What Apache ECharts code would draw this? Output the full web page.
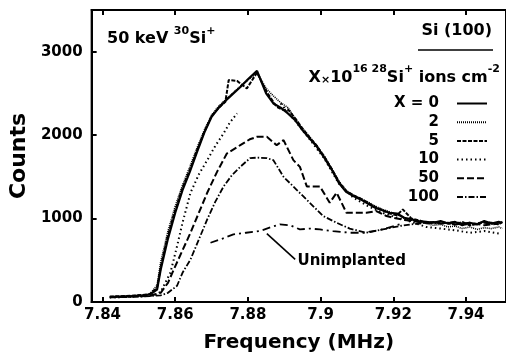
<!DOCTYPE html>
<html>
<head>
<meta charset="utf-8">
<script src="https://cdn.jsdelivr.net/npm/echarts@6/dist/echarts.min.js"></script>
<style>
html,body{margin:0;padding:0;background:#fff;}
#chart{width:506px;height:358px;}
</style>
</head>
<body>
<div id="chart"></div>
<script>
// ---- data ----
const xTicks = [7.84, 7.86, 7.88, 7.9, 7.92, 7.94];
const yTicks = [0, 1000, 2000, 3000];

const freqX0 = [7.842,7.845,7.848,7.851,7.853,7.855,7.856,7.858,7.860,7.862,7.864,7.866,7.868,7.870,7.872,7.874,7.876,7.878,7.880,7.8825,7.885,7.887,7.889,7.891,7.893,7.895,7.897,7.899,7.901,7.903,7.905,7.907,7.909,7.911,7.913,7.915,7.917,7.919,7.921,7.923,7.925,7.927,7.929,7.931,7.933,7.935,7.937,7.939,7.941,7.943,7.945,7.947,7.949,7.950];
const countsX0 = [60,65,70,80,90,150,390,760,1070,1340,1560,1800,2030,2220,2330,2420,2500,2580,2670,2770,2500,2380,2330,2260,2180,2060,1960,1860,1730,1590,1430,1320,1270,1230,1180,1130,1100,1070,1060,1010,990,970,960,950,970,940,960,920,950,930,970,940,960,950];

const freqX2 = [7.842,7.845,7.848,7.851,7.853,7.855,7.856,7.858,7.860,7.862,7.864,7.866,7.868,7.870,7.872,7.874,7.876,7.878,7.880,7.8825,7.885,7.887,7.889,7.891,7.893,7.895,7.897,7.899,7.901,7.903,7.905,7.907,7.909,7.911,7.913,7.915,7.917,7.919,7.921,7.923,7.925,7.927,7.929,7.931,7.933,7.935,7.937,7.939,7.941,7.943,7.945,7.947,7.949,7.950];
const countsX2 = [55,62,72,78,95,200,480,850,1150,1400,1620,1850,2060,2240,2350,2430,2510,2590,2660,2750,2560,2470,2390,2330,2200,2080,1980,1870,1750,1600,1450,1340,1280,1240,1200,1150,1110,1080,1050,1000,980,960,940,920,930,900,910,880,900,870,890,880,900,880];

const freqX5 = [7.842,7.845,7.848,7.851,7.853,7.855,7.856,7.858,7.860,7.862,7.864,7.866,7.868,7.870,7.872,7.8738,7.8747,7.877,7.8797,7.8825,7.8852,7.8879,7.8898,7.891,7.893,7.895,7.897,7.899,7.901,7.903,7.905,7.907,7.909,7.911,7.913,7.915,7.917,7.919,7.921,7.9226,7.925,7.927,7.929,7.931,7.933,7.935,7.937,7.939,7.941,7.943,7.945,7.947,7.949,7.950];
const countsX5 = [65,70,75,85,95,170,420,800,1100,1370,1580,1820,2040,2230,2330,2400,2660,2650,2560,2750,2515,2340,2300,2310,2200,2080,1970,1870,1740,1600,1440,1330,1280,1240,1190,1140,1100,1060,1040,1110,1000,980,950,960,940,950,930,960,920,940,960,950,930,960];

const freqX10 = [7.842,7.846,7.850,7.854,7.856,7.8587,7.8605,7.862,7.8642,7.8665,7.8688,7.871,7.8733,7.875,7.877,7.880,7.889,7.893,7.897,7.901,7.905,7.909,7.913,7.917,7.921,7.925,7.929,7.933,7.937,7.941,7.945,7.949];
const countsX10 = [55,60,70,80,120,355,670,950,1310,1530,1700,1870,2020,2150,2260,null,2380,2170,1950,1720,1420,1250,1150,1070,1010,960,900,880,860,830,850,820];

const freqX50 = [7.842,7.848,7.853,7.856,7.858,7.8596,7.862,7.8642,7.8665,7.8688,7.8715,7.8742,7.8779,7.8805,7.8825,7.8852,7.8879,7.8898,7.8925,7.8943,7.8962,7.8998,7.9025,7.9044,7.9071,7.9126,7.9153,7.9181,7.921,7.925,7.929,7.933,7.937,7.941,7.945,7.949];
const countsX50 = [60,65,75,110,230,390,620,830,1070,1310,1560,1780,1880,1950,1980,1980,1880,1940,1700,1620,1385,1385,1190,1310,1070,1070,1090,1030,1000,970,950,960,930,950,920,940];

const freqX100 = [7.842,7.848,7.853,7.856,7.858,7.8605,7.862,7.8642,7.8665,7.8688,7.871,7.8733,7.8756,7.8779,7.8806,7.8825,7.8852,7.8870,7.8898,7.8934,7.8970,7.9007,7.9044,7.9080,7.9126,7.9171,7.9217,7.925,7.929,7.933,7.937,7.941,7.945,7.949];
const countsX100 = [55,60,70,80,110,195,350,510,750,990,1200,1385,1520,1620,1725,1730,1725,1700,1500,1345,1190,1030,950,880,830,870,910,930,950,940,960,920,950,930];

const freqUnimpl = [7.8697,7.873,7.876,7.8795,7.8833,7.8865,7.8888,7.8916,7.8943,7.897,7.8998,7.9034,7.908,7.912,7.9171,7.9217];
const countsUnimpl = [710,760,810,830,850,900,930,920,870,880,870,850,830,830,870,930];

const seriesNames = ['X = 0', '2', '5', '10', '50', '100'];
const pointerFrom = [7.8852, 820];
const pointerTo = [7.8930, 510];
const labelAt = [7.8935, 495];

// ---- chart ----
const FONT = 'DejaVu Sans';
function zip(xs, ys) { return xs.map((x, i) => [x, ys[i] == null ? '-' : ys[i]]); }
function line(name, xs, ys, type, width, z) {
  return {
    name: name, type: 'line', data: zip(xs, ys), symbol: 'none', z: z || 2,
    connectNulls: false, animation: false, color: '#000',
    itemStyle: { color: '#000' },
    lineStyle: { color: '#000', width: width, type: type }
  };
}

const chart = echarts.init(document.getElementById('chart'), null, { renderer: 'canvas' });
const seriesList = [
  line(seriesNames[0], freqX0, countsX0, 'solid', 2.2, 6),
  line(seriesNames[1], freqX2, countsX2, [1, 1], 1.6, 5),
  line(seriesNames[2], freqX5, countsX5, [4, 1.5], 2, 4),
  line(seriesNames[3], freqX10, countsX10, [1.5, 3], 2, 3),
  line(seriesNames[4], freqX50, countsX50, [7, 3], 2, 3),
  line(seriesNames[5], freqX100, countsX100, [6, 2, 1.5, 2], 1.8, 3),
  Object.assign(line('Unimplanted', freqUnimpl, countsUnimpl, [8, 4, 2, 4], 1.8, 3), {
    markLine: {
      silent: true, symbol: 'none', animation: false,
      lineStyle: { color: '#000', width: 1.6, type: 'solid' },
      label: { show: false },
      data: [[{ coord: pointerFrom }, { coord: pointerTo }]]
    },
    markPoint: {
      silent: true, symbol: 'circle', symbolSize: 1, animation: false,
      itemStyle: { color: 'rgba(0,0,0,0)' },
      label: { show: true, position: 'right', distance: 0, formatter: 'Unimplanted',
        fontFamily: FONT, fontWeight: 'bold', fontSize: 15, color: '#000' },
      data: [{ coord: labelAt }]
    }
  })
];

const axisFont = { fontFamily: FONT, fontWeight: 'bold', color: '#000' };

chart.setOption({
  backgroundColor: '#fff',
  animation: false,
  title: {
    text: '{n|50 keV }{s|30}{n|Si}{s|+}',
    left: 102, top: 21,
    textStyle: {
      rich: {
        n: { fontFamily: FONT, fontWeight: 'bold', fontSize: 16, color: '#000', lineHeight: 21, verticalAlign: 'bottom' },
        s: { fontFamily: FONT, fontWeight: 'bold', fontSize: 11, color: '#000', lineHeight: 21, verticalAlign: 'top' }
      }
    }
  },
  grid: { left: 91, top: 10, width: 416, height: 293, show: true, borderColor: '#000', borderWidth: 2, backgroundColor: 'transparent' },
  legend: {
    data: seriesNames, orient: 'vertical', align: 'right', right: 18, top: 96, padding: 0,
    itemWidth: 30, itemHeight: 10, itemGap: 3.7,
    itemStyle: { opacity: 0 },
    formatter: n => '{a|' + n + '}',
    textStyle: { rich: { a: { width: 45, align: 'right', padding: [0, 13, 0, 0], lineHeight: 15,
      fontFamily: FONT, fontWeight: 'bold', fontSize: 15, color: '#000' } } }
  },
  xAxis: [{
    type: 'value', min: 7.837, max: 7.951,
    name: 'Frequency (MHz)', nameLocation: 'middle', nameGap: 31,
    nameTextStyle: Object.assign({ fontSize: 20 }, axisFont),
    axisLine: { lineStyle: { color: '#000', width: 2 } },
    axisTick: { inside: true, length: 5, customValues: xTicks, lineStyle: { color: '#000', width: 2 } },
    axisLabel: Object.assign({ customValues: xTicks, fontSize: 15, margin: 6, formatter: v => String(v) }, axisFont),
    splitLine: { show: false }
  }, {
    type: 'value', min: 7.837, max: 7.951, position: 'top',
    axisLine: { lineStyle: { color: '#000', width: 2 } },
    axisTick: { inside: true, length: 5, customValues: xTicks, lineStyle: { color: '#000', width: 2 } },
    axisLabel: { show: false }, splitLine: { show: false }
  }],
  yAxis: {
    type: 'value', min: 0, max: 3500,
    name: 'Counts', nameLocation: 'middle', nameGap: 57,
    nameTextStyle: Object.assign({ fontSize: 22 }, axisFont),
    axisLine: { show: true, lineStyle: { color: '#000', width: 2 } },
    axisTick: { inside: true, length: 5, customValues: yTicks, lineStyle: { color: '#000', width: 2 } },
    axisLabel: Object.assign({ customValues: yTicks, fontSize: 15, margin: 9, formatter: v => String(v) }, axisFont),
    splitLine: { show: false }
  },
  graphic: [
    { type: 'text', right: 14, top: 23, z: 10,
      style: { text: 'Si (100)', fontFamily: FONT, fontWeight: 'bold', fontSize: 16, fill: '#000' } },
    { type: 'line', z: 10, shape: { x1: 418, y1: 50, x2: 493, y2: 50 }, style: { stroke: '#000', lineWidth: 1.5 } },
    { type: 'text', right: 6, top: 64, z: 10,
      style: {
        text: '{n|X}{m|×}{n|10}{s|16 28}{n|Si}{s|+}{n| ions cm}{s|-2}',
        rich: {
          n: { fontFamily: FONT, fontWeight: 'bold', fontSize: 16, fill: '#000', lineHeight: 22, verticalAlign: 'bottom' },
          m: { fontFamily: FONT, fontWeight: 'bold', fontSize: 11, fill: '#000', lineHeight: 22, verticalAlign: 'bottom' },
          s: { fontFamily: FONT, fontWeight: 'bold', fontSize: 11, fill: '#000', lineHeight: 22, verticalAlign: 'top' }
        }
      } }
  ],
  series: seriesList
});
</script>
</body>
</html>
